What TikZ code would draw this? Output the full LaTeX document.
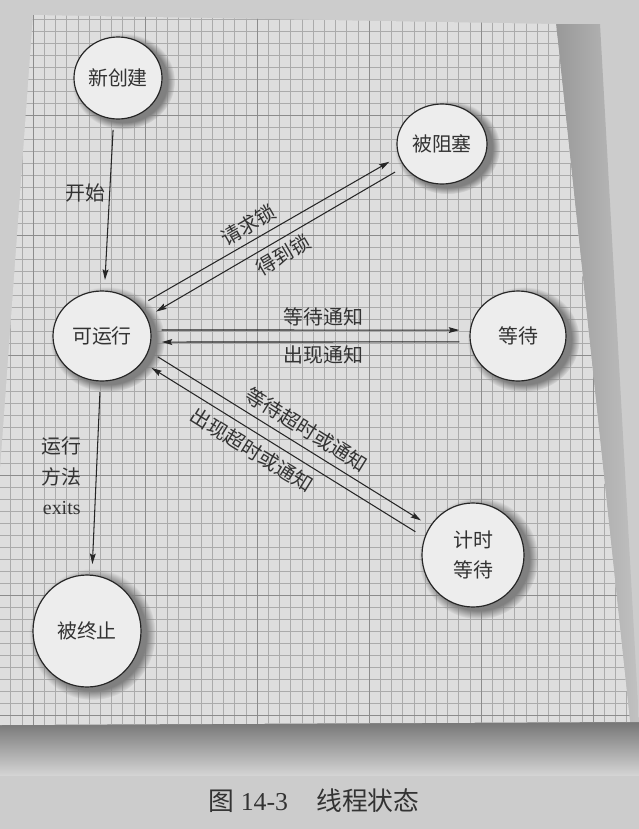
\documentclass[tikz,border=0pt]{standalone}
\usepackage{fontspec}
\setmainfont{Liberation Serif}
\newfontfamily\cjk{Noto Sans CJK SC}
\usetikzlibrary{shapes,shadows,arrows.meta}

\tikzset{
every picture/.style={
line width=0.9pt
}}

\begin{document}
\begin{tikzpicture}[x=0.03cm, y=-0.03cm,
>={Stealth[length=9pt,width=5pt,inset=1.5pt]},
state/.style = {ellipse, draw=black!85, fill=black!7, line width=1pt, inner sep=0pt,
  align=center, text=black!80, font=\cjk\fontsize{17}{25}\selectfont,
  circular drop shadow={shadow xshift=4pt, shadow yshift=-2.5pt, shadow scale=1.17, opacity=1}},
trans/.style = {->, draw=black!85, shorten >=9pt, shorten <=9pt},
lbl/.style = {font=\cjk\fontsize{17}{26}\selectfont, text=black!80, inner sep=3pt},
minor/.style = {black!33, line width=0.35pt},
major/.style = {black!45, line width=0.75pt}]

\useasboundingbox (0,0) rectangle (639,829);

% page and grid paper
\fill[black!20] (0,0) rectangle (639,829);
\shade[top color=black!55, bottom color=black!17] (0,720) rectangle (639,775);
\shade[left color=black!40, right color=black!24] (556,24) -- (600,24) -- (639,722) -- (630,722) -- cycle;
\fill[black!13] (33,15) -- (556,24) -- (630,722) -- (0,725) -- (0,470) -- cycle;
\begin{scope}
\clip (33,15) -- (556,24) -- (630,722) -- (0,725) -- (0,470) -- cycle;
\foreach \i in {-3,...,54} \draw[minor] (33+\i*11.2,0) -- (33+\i*11.2,740);
\foreach \j in {-10,...,51} \draw[minor] (0,115+\j*12) -- (639,115+\j*12);
\foreach \i in {0,...,5} \draw[major] (33+\i*112,0) -- (33+\i*112,740);
\foreach \j in {-1,...,5} \draw[major] (0,115+\j*120) -- (639,115+\j*120);
\end{scope}

% states
\node[state, minimum width=2.64cm, minimum height=2.46cm] (new) at (118,78) {新创建};
\node[state, minimum width=2.7cm, minimum height=2.4cm] (blocked) at (442,144) {被阻塞};
\node[state, minimum width=2.94cm, minimum height=2.7cm] (run) at (102,336) {可运行};
\node[state, minimum width=2.88cm, minimum height=2.7cm] (wait) at (518,336) {等待};
\node[state, minimum width=3.06cm, minimum height=3.12cm] (timed) at (473,555) {计时\\等待};
\node[state, minimum width=3.24cm, minimum height=3.36cm] (term) at (87,631) {被终止};

% transitions
\draw[trans] (new.-96) -- node[lbl, left, pos=0.43] {开始} (run.87);
\draw[trans] (run.39) -- node[lbl, sloped, above=2pt, pos=0.45] {请求锁} (blocked.196);
\draw[trans] (blocked.211) -- node[lbl, sloped, below=2pt, pos=0.5] {得到锁} (run.23);
\draw[trans] (run.7) -- node[lbl, above, pos=0.54] {等待通知} (wait.173);
\draw[trans] (wait.187) -- node[lbl, below, pos=0.46] {出现通知} (run.-7);
\draw[trans] (run.-18) -- node[lbl, sloped, above=3pt, pos=0.53] {等待超时或通知} (timed.146);
\draw[trans] (timed.160) -- node[lbl, sloped, below=3pt, pos=0.58] {出现超时或通知} (run.-33);
\draw[trans] (run.-92) -- node[lbl, left=9pt, align=center, pos=0.49] {运行\\方法\\{\rmfamily exits}} (term.85);

% caption
\node[font=\fontsize{22}{26}\selectfont, text=black!80] (cap) at (314,801) {{\cjk 图} 14-3\hspace{1.1em}{\cjk 线程状态}};
\end{tikzpicture}
\end{document}
